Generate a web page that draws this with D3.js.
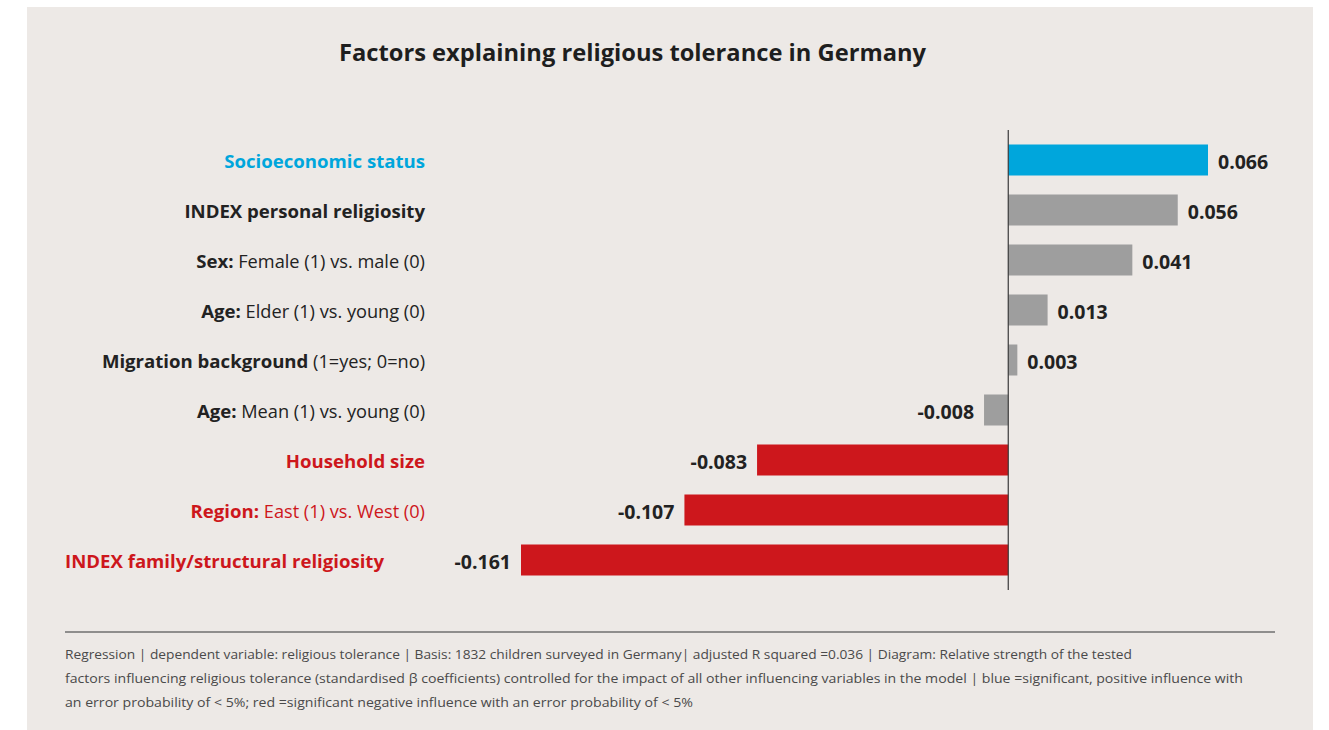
<!DOCTYPE html>
<html>
<head>
<meta charset="utf-8">
<script src="https://cdn.jsdelivr.net/npm/d3@7"></script>
<style>
  html, body { margin: 0; padding: 0; background: #ffffff; }
  svg { display: block; }
</style>
</head>
<body>
<svg id="chart" width="1329" height="730"></svg>
<script>
// ---- data ----
const titleText = "Factors explaining religious tolerance in Germany";
const labelBold = ["Socioeconomic status", "INDEX personal religiosity", "Sex:", "Age:", "Migration background", "Age:", "Household size", "Region:", "INDEX family/structural religiosity"];
const labelRest = ["", "", " Female (1) vs. male (0)", " Elder (1) vs. young (0)", " (1=yes; 0=no)", " Mean (1) vs. young (0)", "", " East (1) vs. West (0)", ""];
const values = [0.066, 0.056, 0.041, 0.013, 0.003, -0.008, -0.083, -0.107, -0.161];
const significance = ["positive", "none", "none", "none", "none", "none", "negative", "negative", "negative"];
const valueLabels = ["0.066", "0.056", "0.041", "0.013", "0.003", "-0.008", "-0.083", "-0.107", "-0.161"];
const footnoteLines = [
  "Regression | dependent variable: religious tolerance | Basis: 1832 children surveyed in Germany| adjusted R squared =0.036 | Diagram: Relative strength of the tested",
  "factors influencing religious tolerance (standardised \u03b2 coefficients) controlled for the impact of all other influencing variables in the model | blue =significant, positive influence with",
  "an error probability of < 5%; red =significant negative influence with an error probability of < 5%"
];

// ---- styles ----
const barColor = { positive: "#00a6dc", none: "#9e9e9e", negative: "#cd171c" };
const labelColor = { positive: "#00a6dc", none: "#222222", negative: "#cd171c" };
const font = "'Open Sans', 'Noto Sans', sans-serif";

const svg = d3.select("#chart");

// panel
svg.append("rect").attr("x", 27).attr("y", 7).attr("width", 1286).attr("height", 723).attr("fill", "#ede9e6");

// title
svg.append("text")
  .attr("x", 339).attr("y", 61)
  .attr("font-family", font).attr("font-weight", 700).attr("font-size", 23)
  .attr("fill", "#1e1e1e")
  .attr("textLength", 587).attr("lengthAdjust", "spacingAndGlyphs")
  .text(titleText);

// scales
const x = d3.scaleLinear().domain([-0.161, 0.066]).range([521, 1208]);
const y = d3.scaleBand().domain(d3.range(values.length)).range([135, 585]).paddingInner(0.38).paddingOuter(0.19);

const rows = values.map((v, i) => ({ i, v, bold: labelBold[i], rest: labelRest[i], sig: significance[i], vl: valueLabels[i] }));

// bars
svg.append("g").selectAll("rect").data(rows).join("rect")
  .attr("x", d => Math.min(x(0), x(d.v)))
  .attr("y", d => y(d.i))
  .attr("width", d => Math.abs(x(d.v) - x(0)))
  .attr("height", y.bandwidth())
  .attr("fill", d => barColor[d.sig]);

// axis line
svg.append("line")
  .attr("x1", x(0)).attr("x2", x(0))
  .attr("y1", 130).attr("y2", 590)
  .attr("stroke", "#3a3a3a").attr("stroke-width", 1.2);

// value labels
svg.append("g").selectAll("text").data(rows).join("text")
  .attr("x", d => d.v >= 0 ? x(d.v) + 10 : x(d.v) - 10)
  .attr("y", d => y(d.i) + y.bandwidth() / 2)
  .attr("dy", "0.48em")
  .attr("text-anchor", d => d.v >= 0 ? "start" : "end")
  .attr("font-family", font).attr("font-weight", 700).attr("font-size", 19.5)
  .attr("fill", "#222222")
  .text(d => d.vl);

// category labels
const lab = svg.append("g").selectAll("text").data(rows).join("text")
  .attr("x", d => d.i === rows.length - 1 ? 65 : 425)
  .attr("y", d => y(d.i) + y.bandwidth() / 2)
  .attr("dy", "0.45em")
  .attr("text-anchor", d => d.i === rows.length - 1 ? "start" : "end")
  .attr("font-family", font).attr("font-size", 18.6)
  .attr("fill", d => labelColor[d.sig]);
lab.append("tspan").attr("font-weight", 700).text(d => d.bold);
lab.append("tspan").attr("font-weight", 400).attr("font-size", 18.2).text(d => d.rest);

// footer rule
svg.append("line")
  .attr("x1", 65).attr("x2", 1275).attr("y1", 632).attr("y2", 632)
  .attr("stroke", "#6f6f6f").attr("stroke-width", 1.5);

// footnote
const footLens = [1067, 1178, 628];
svg.append("g").selectAll("text").data(footnoteLines).join("text")
  .attr("x", 65)
  .attr("y", (d, i) => 659 + i * 24)
  .attr("font-family", font).attr("font-size", 13.5)
  .attr("fill", "#4a4a4a")
  .attr("textLength", (d, i) => footLens[i]).attr("lengthAdjust", "spacingAndGlyphs")
  .text(d => d);
</script>
</body>
</html>
